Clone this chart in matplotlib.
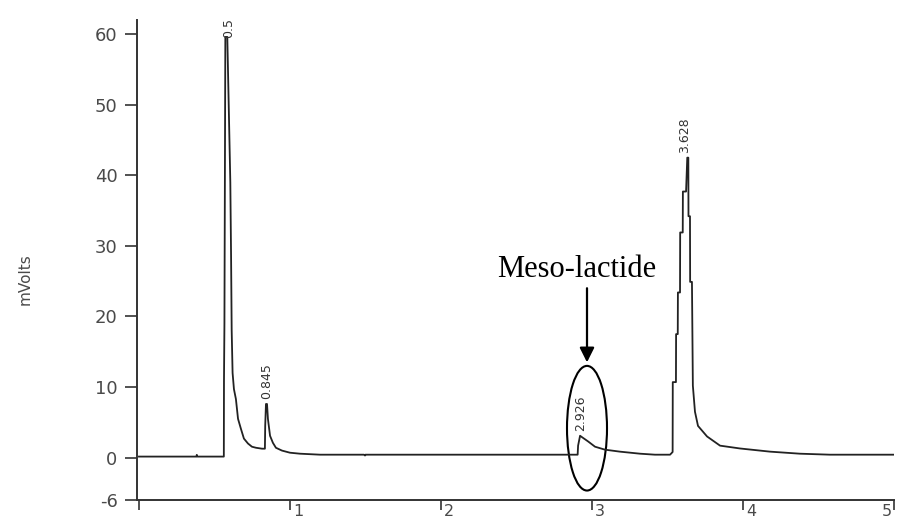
import numpy as np
import matplotlib.pyplot as plt
from matplotlib.patches import Ellipse
from matplotlib.transforms import ScaledTranslation

plt.rcParams['axes.unicode_minus'] = False

# Chromatogram trace (time in min, signal in mV)
time = [0.0, 0.38, 0.383, 0.387, 0.562, 0.563, 0.566, 0.572, 0.585, 0.605,
        0.610, 0.614, 0.620, 0.629, 0.642, 0.656, 0.675, 0.695, 0.722, 0.748,
        0.775, 0.815, 0.834, 0.836, 0.841, 0.848, 0.854, 0.868, 0.887, 0.907,
        0.947, 1.0, 1.066, 1.2, 1.49, 1.497, 1.50, 2.0, 2.5, 2.905, 2.908,
        2.921, 2.934, 2.974, 3.02, 3.086, 3.185, 3.318, 3.417, 3.517, 3.534,
        3.535, 3.556, 3.557, 3.568, 3.569, 3.583, 3.584, 3.601, 3.602, 3.623,
        3.631, 3.638, 3.639, 3.649, 3.650, 3.662, 3.668, 3.682, 3.702, 3.762,
        3.848, 3.980, 4.179, 4.377, 4.576, 5.02]
signal = [0.15, 0.15, 0.4, 0.15, 0.15, 10.8, 19.0, 59.6, 59.6, 39.0,
          28.5, 18.0, 12.0, 9.7, 8.3, 5.5, 4.1, 2.7, 2.0, 1.55,
          1.4, 1.27, 1.27, 4.5, 7.6, 7.6, 5.5, 3.1, 2.1, 1.4,
          1.0, 0.7, 0.56, 0.42, 0.42, 0.3, 0.42, 0.42, 0.42, 0.42, 1.7,
          3.1, 2.9, 2.3, 1.55, 1.13, 0.85, 0.56, 0.42, 0.42, 0.8,
          10.7, 10.7, 17.5, 17.5, 23.4, 23.4, 31.9, 31.9, 37.7, 37.7,
          42.5, 42.5, 34.2, 34.2, 24.9, 24.9, 10.2, 6.5, 4.5, 3.0,
          1.7, 1.3, 0.85, 0.56, 0.42, 0.42]

# Peak labels (retention times) and where they sit
peak_names = ['0.583', '0.845', '2.926', '3.628']
peak_x = [0.595, 0.848, 2.927, 3.616]
peak_y = [59.4, 8.3, 3.8, 43.2]

yticks = [-6, 0, 10, 20, 30, 40, 50, 60]
xticks = [0, 1, 2, 3, 4, 5]
xticklabels = ['', '1', '2', '3', '4', '5']

grey = '#4a4a4a'

fig = plt.figure(figsize=(8.97, 5.21), dpi=100)
ax = fig.add_axes([137 / 897, 1 - 500 / 521, (894 - 137) / 897, (500 - 20) / 521])

ax.plot(time, signal, color='#222222', lw=1.3)

ax.set_xlim(-0.013, 5.0)
ax.set_ylim(-6, 62)

for side in ['top', 'right']:
    ax.spines[side].set_visible(False)
for side in ['left', 'bottom']:
    ax.spines[side].set_color('#333333')
    ax.spines[side].set_linewidth(1.4)

ax.set_yticks(yticks)
ax.tick_params(axis='y', length=9, width=1.2, pad=5, colors='#333333',
               labelsize=13, labelcolor=grey)
ax.set_xticks(xticks)
ax.set_xticklabels(xticklabels)
ax.tick_params(axis='x', length=7, width=1.2, pad=-4, colors='#333333',
               labelsize=11.5, labelcolor=grey)
offset = ScaledTranslation(3 / 100, 0, fig.dpi_scale_trans)
xlabels = ax.get_xticklabels()
for lbl in xlabels:
    lbl.set_ha('left')
    lbl.set_transform(lbl.get_transform() + offset)
# last label would fall off the right edge, keep it inside
xlabels[-1].set_ha('right')
xlabels[-1].set_transform(xlabels[-1].get_transform()
                          + ScaledTranslation(-5 / 100, 0, fig.dpi_scale_trans))

fig.text(25 / 897, 1 - 279 / 521, 'mVolts', rotation=90, ha='center',
         va='center', fontsize=11, color=grey)

for name, px, py in zip(peak_names, peak_x, peak_y):
    ax.text(px, py, name, rotation=90, ha='center', va='bottom',
            fontsize=9, color='#333333', clip_on=True)

# Annotation for the meso-lactide peak
ax.text(2.90, 25.6, 'Meso-lactide', family='Liberation Serif', fontsize=22,
        ha='center', va='baseline', color='black')
ax.annotate('', xy=(2.967, 13.5), xytext=(2.967, 24.0),
            arrowprops=dict(arrowstyle='-|>', lw=1.6, color='black',
                            mutation_scale=22, shrinkA=0, shrinkB=0))
ax.add_patch(Ellipse((2.967, 4.17), 0.265, 17.66, fill=False, lw=1.5,
                     edgecolor='black'))

fig.savefig('out.png', dpi=100)
